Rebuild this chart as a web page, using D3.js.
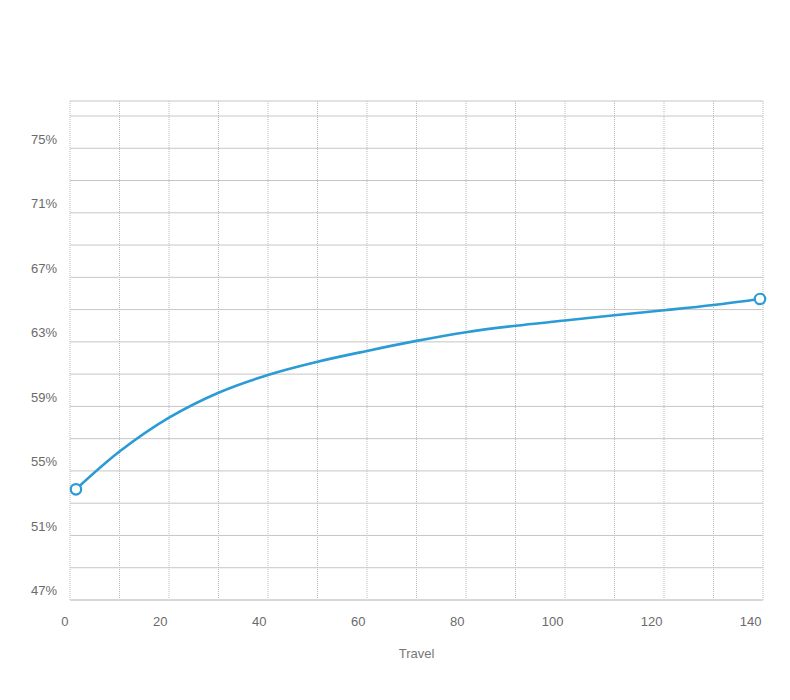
<!DOCTYPE html>
<html>
<head>
<meta charset="utf-8">
<script src="https://cdn.jsdelivr.net/npm/d3@7"></script>
<style>
  html, body { margin: 0; padding: 0; background: #fff; }
  svg { display: block; }
  text { font-family: "Liberation Sans", Arial, sans-serif; }
</style>
</head>
<body>
<svg id="chart" width="790" height="700"></svg>
<script>
// ---- data ----
const travel = [1.2, 10, 20, 30, 40, 50, 60, 70, 80, 90, 100, 110, 120, 130, 139.4];
const share  = [53.86, 56.20, 58.30, 59.85, 60.95, 61.77, 62.44, 63.06, 63.60, 64.00, 64.32, 64.65, 64.96, 65.29, 65.66];
const yTickValues = [47, 51, 55, 59, 63, 67, 71, 75];
const yGridValues = [47, 49, 51, 53, 55, 57, 59, 61, 63, 65, 67, 69, 71, 73, 75, 77];
const xTickValues = [0, 20, 40, 60, 80, 100, 120, 140];
const xGridValues = [0, 10, 20, 30, 40, 50, 60, 70, 80, 90, 100, 110, 120, 130, 140];
const xTitle = "Travel";

const points = travel.map((t, i) => ({ x: t, y: share[i] }));

const svg = d3.select("#chart");
const pLeft = 70, pRight = 763, pTop = 101, pBottom = 600;

const x = d3.scaleLinear().domain([0, 140]).range([pLeft, pRight]);
const y = d3.scaleLinear().domain([47, 77.93]).range([pBottom, pTop]);

// vertical grid lines
const g = svg.append("g");
g.selectAll("line.vg").data(xGridValues).enter().append("line")
  .attr("x1", d => x(d)).attr("x2", d => x(d))
  .attr("y1", pTop).attr("y2", pBottom)
  .attr("stroke", d => d % 20 === 0 ? "#dcdcdc" : "#b8b8b8")
  .attr("stroke-width", d => d % 20 === 0 ? 2 : 1)
  .attr("stroke-dasharray", "1,1");

// horizontal grid lines
g.selectAll("line.hg").data(yGridValues).enter().append("line")
  .attr("x1", pLeft).attr("x2", pRight)
  .attr("y1", d => y(d)).attr("y2", d => y(d))
  .attr("stroke", d => d === 47 ? "#d8d8d8" : "#c6c6c6")
  .attr("stroke-width", d => d === 47 ? 2 : 1);
// top border
g.append("line")
  .attr("x1", pLeft).attr("x2", pRight)
  .attr("y1", y.range()[1]).attr("y2", y.range()[1])
  .attr("stroke", "#c6c6c6").attr("stroke-width", 1);

// y axis labels
const yAxis = d3.axisLeft(y).tickValues(yTickValues).tickSize(0).tickFormat(d => d + "%");
const yg = svg.append("g").attr("transform", `translate(${pLeft - 13},-2)`).call(yAxis);
yg.select(".domain").remove();
yg.selectAll("text")
  .attr("x", 0).attr("dy", "-0.25em")
  .attr("fill", "#6b6b6b").style("font-size", "13px")
  .style("font-family", "'Liberation Sans', Arial, sans-serif");

// x axis labels
const xAxis = d3.axisBottom(x).tickValues(xTickValues).tickSize(0).tickFormat(d3.format("d"));
const xg = svg.append("g").attr("transform", `translate(-2,${pBottom})`).call(xAxis);
xg.select(".domain").remove();
xg.selectAll("text")
  .attr("y", 26).attr("dy", 0)
  .attr("text-anchor", "end")
  .attr("fill", "#6b6b6b").style("font-size", "13px")
  .style("font-family", "'Liberation Sans', Arial, sans-serif");

// x title
svg.append("text")
  .attr("x", (pLeft + pRight) / 2).attr("y", 658)
  .attr("text-anchor", "middle")
  .attr("fill", "#777").style("font-size", "13px")
  .text(xTitle);

// line
const line = d3.line().x(d => x(d.x)).y(d => y(d.y)).curve(d3.curveCatmullRom.alpha(0.5));
svg.append("path").datum(points)
  .attr("d", line)
  .attr("fill", "none")
  .attr("stroke", "#2b9bd5")
  .attr("stroke-width", 2.6);

// end markers
const ends = [points[0], points[points.length - 1]];
svg.selectAll("circle.m").data(ends).enter().append("circle")
  .attr("cx", d => x(d.x)).attr("cy", d => y(d.y))
  .attr("r", 5.2)
  .attr("fill", "#fff")
  .attr("stroke", "#2b9bd5")
  .attr("stroke-width", 2.2);
</script>
</body>
</html>
